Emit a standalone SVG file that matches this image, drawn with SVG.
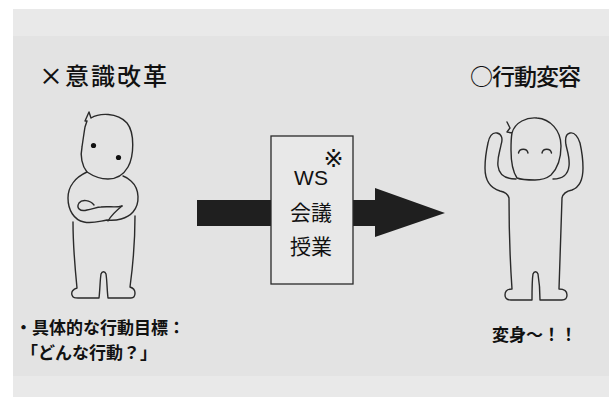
<svg xmlns="http://www.w3.org/2000/svg" width="609" height="397" viewBox="0 0 609 397">
  <style>
    .title { font-family: "Noto Sans CJK JP", "Noto Sans", sans-serif; font-size: 24px; font-weight: 500; fill: #111; letter-spacing: 2px; }
    .note { font-family: "Noto Sans CJK JP", "Noto Sans", sans-serif; font-size: 17px; font-weight: 700; fill: #111; }
    .boxtxt { font-family: "Noto Sans CJK JP", "Noto Sans", sans-serif; font-size: 21px; fill: #111; text-anchor: middle; }
    .latin { font-family: "Liberation Sans", Arial, sans-serif; font-size: 21px; fill: #111; text-anchor: middle; }
    .mark { font-family: "DejaVu Sans", "Noto Sans CJK JP", sans-serif; font-size: 24px; fill: #111; text-anchor: middle; }
    .line { fill: none; stroke: #2a2a2a; stroke-width: 1.4; stroke-linejoin: round; stroke-linecap: round; }
    .eye { fill: #111; }
  </style>

  <!-- page background -->
  <rect x="0" y="0" width="609" height="397" fill="#ffffff"/>
  <rect x="13" y="9" width="596" height="388" fill="#e9e9e9"/>
  <rect x="13" y="36" width="596" height="340" fill="#e3e3e3"/>

  <!-- headings -->
  <g id="title-left">
    <text class="title" x="39" y="85">×意識改革</text>
  </g>
  <g id="title-right">
    <text class="title" x="470" y="85" style="font-size:23px;letter-spacing:-1px">○行動変容</text>
  </g>

  <!-- connector: thick arrow passing behind the box -->
  <g id="connectors">
    <polygon points="197,200 375,200 375,188 445,213 375,237 375,226 197,226" fill="#1f1f1f"/>
  </g>

  <!-- figure with crossed arms -->
  <g id="figure-left">
    <!-- head with tuft -->
    <path class="line" d="M85,127 L87,121 L85,121 L89,112 L91,118 C99,113 117,112 127,123 C135,133 134,156 128,167 C124,174 117,179 108,179 C100,179 93,176 87,172 C82,166 80,156 82,147 C83,140 84,133 85,127 Z"/>
    <circle class="eye" cx="93.5" cy="145.5" r="2.6"/>
    <circle class="eye" cx="118.5" cy="157.5" r="2.6"/>
    <!-- torso -->
    <path class="line" d="M87,172 C76,177 68,186 68,198 C68,210 74,220 84,222 C92,224 100,221 107,220 C116,221 127,219 133,212 C140,204 140,189 131,181 C128,178 126,177 123,176"/>
    <!-- crossed arms -->
    <path class="line" d="M94,205 C90,200 82,199 79,203 C76,208 80,212 87,210 C93,209 97,207 101,207 C109,206 116,208 122,206"/>
    <path class="line" d="M122,206 C117,210 112,214 108,221"/>
    <!-- legs and feet -->
    <path class="line" d="M73,222 C73,245 75,268 77,288 C73,289 71,292 72,295 C73,298 75,298 78,298 L99,298 C100,290 100,280 101,274 C102,271 105,271 106,274 C107,280 107,290 108,298 L131,298 C134,298 135,296 135,293 C135,290 133,288 130,287 C133,265 135,245 135,216"/>
  </g>

  <!-- box in the middle -->
  <g id="box-methods">
    <rect x="271" y="136" width="82" height="148" fill="#e8e8e8" stroke="#2a2a2a" stroke-width="1.3"/>
    <text class="latin" x="311" y="185">WS</text>
    <text class="mark" x="333.5" y="167">※</text>
    <text class="boxtxt" x="311" y="220">会議</text>
    <text class="boxtxt" x="311" y="254">授業</text>
  </g>

  <!-- figure with raised arms -->
  <g id="figure-right">
    <!-- head with tuft -->
    <path class="line" d="M507,122 L510,128 L507,132 L512,133 C515,122 527,117 537,118 C550,119 561,130 561,146 C561,158 558,168 551,175 C546,179 541,180 535,180 C528,180 522,180 517,178 C513,172 511,162 511,150 C511,143 511,138 512,133"/>
    <!-- closed smiling eyes -->
    <path class="line" d="M518.5,153 C519.5,148 527,148 528,153"/>
    <path class="line" d="M542,153 C543,148 550.5,148 551.5,153"/>
    <!-- arms, body, legs -->
    <path class="line" d="M516,179 C505,179 499,175 498,166 C497,158 500,151 501,145 C503,139 502,134 497,133 C492,132 489,137 488,143 C486,152 485,160 485,168 C485,180 490,188 500,191 C505,192 508,194 509,198 C509,230 510,260 512,289 C508,289 505,291 505,295 C505,299 508,300 511,300 L532,300 C532,290 532,280 533,274 C534,271 537,271 538,274 C539,280 540,290 540,300 L562,300 C565,300 567,298 567,295 C567,291 564,289 559,289 C560,260 561,230 562,198 C563,193 567,191 572,190 C580,187 583,180 583,168 C583,160 582,152 580,143 C578,137 575,132 570,133 C565,134 565,139 566,145 C567,150 570,158 569,166 C568,175 562,179 553,179"/>
  </g>

  <!-- captions -->
  <g id="caption-left">
    <text class="note" x="15" y="334">・具体的な行動目標：</text>
    <text class="note" x="21" y="359">「どんな行動？」</text>
  </g>
  <g id="caption-right">
    <text class="note" x="492" y="341">変身～！！</text>
  </g>
</svg>
